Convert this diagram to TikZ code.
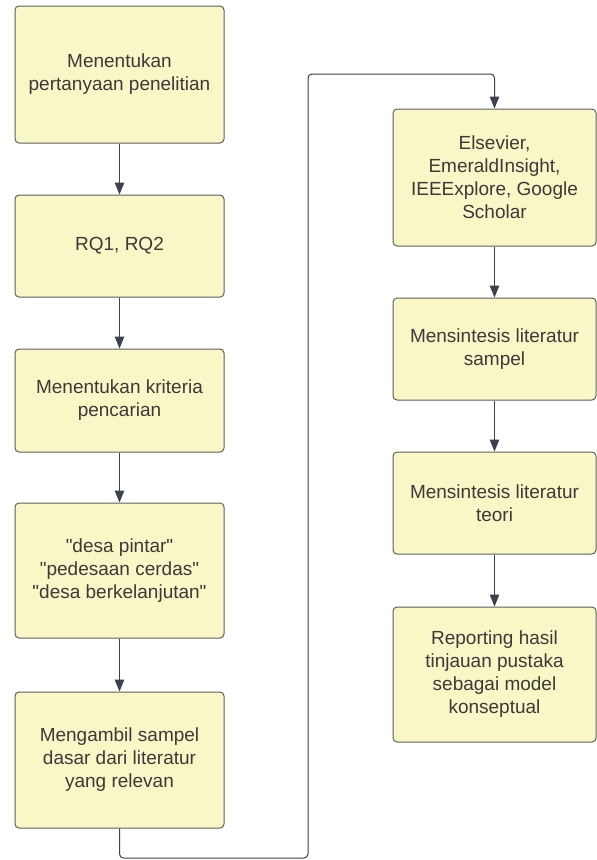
\documentclass[tikz,border=0pt]{standalone}
\usepackage{fontspec}
\setmainfont{Liberation Sans}[Ligatures=TeXOff]
\usetikzlibrary{arrows.meta}
\definecolor{boxfill}{HTML}{FAF7C7}
\definecolor{boxline}{HTML}{5E5E5E}
\definecolor{txt}{HTML}{3A3A3A}
\definecolor{arr}{HTML}{3B424B}
\begin{document}
\begin{tikzpicture}[x=1pt,y=1pt,
  stepbox/.style={draw=boxline, fill=boxfill, line width=1pt, rounded corners=4pt,
    align=center, text=txt, inner sep=0pt,
    font=\fontsize{19}{23}\selectfont},
  leftbox/.style={stepbox, minimum width=209pt},
  rightbox/.style={stepbox, minimum width=203pt},
  conn/.style={draw=arr, line width=1pt, -{Triangle[length=12pt,width=9.5pt]}}
]
\useasboundingbox (0,0) rectangle (597,-860);
\fill[white] (0,0) rectangle (597,-860);
% left column
\node[leftbox, minimum height=137pt] (l1) at (119.5,-74.5) {Menentukan\\pertanyaan penelitian};
\node[leftbox, minimum height=102pt] (l2) at (119.5,-246) {RQ1, RQ2};
\node[leftbox, minimum height=103pt] (l3) at (119.5,-400.5) {Menentukan kriteria\\pencarian};
\node[leftbox, minimum height=135pt] (l4) at (119.5,-570.5) {"desa pintar"\\"pedesaan cerdas"\\"desa berkelanjutan"};
\node[leftbox, minimum height=136pt] (l5) at (119.5,-760) {Mengambil sampel\\dasar dari literatur\\yang relevan};
% right column
\node[rightbox, minimum height=137pt] (r1) at (494.5,-177.5) {Elsevier,\\EmeraldInsight,\\IEEExplore, Google\\Scholar};
\node[rightbox, minimum height=102pt] (r2) at (494.5,-349) {Mensintesis literatur\\sampel};
\node[rightbox, minimum height=102pt] (r3) at (494.5,-503) {Mensintesis literatur\\teori};
\node[rightbox, minimum height=135pt] (r4) at (494.5,-674.5) {Reporting hasil\\tinjauan pustaka\\sebagai model\\konseptual};
% connectors
\draw[conn] (l1) -- (l2);
\draw[conn] (l2) -- (l3);
\draw[conn] (l3) -- (l4);
\draw[conn] (l4) -- (l5);
\coordinate (lb) at (308,-858);
\coordinate (lt) at (308,-74);
\draw[conn, rounded corners=4pt] (l5.south) |- (lb) -- (lt) -| (r1.north);
\draw[conn] (r1) -- (r2);
\draw[conn] (r2) -- (r3);
\draw[conn] (r3) -- (r4);
\end{tikzpicture}
\end{document}
